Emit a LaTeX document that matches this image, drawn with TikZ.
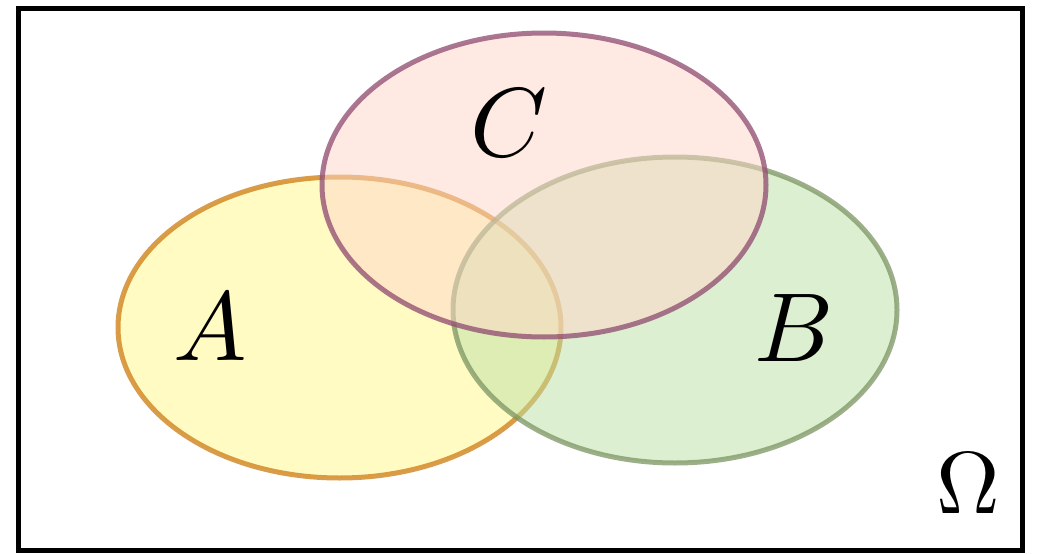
\documentclass[tikz,border=0pt]{standalone}
\usepackage{xcolor}
\definecolor{afill}{RGB}{255,249,135}
\definecolor{adraw}{RGB}{205,124,17}
\definecolor{cfill}{RGB}{255,215,201}
\definecolor{cdraw}{RGB}{142,74,111}
\definecolor{bfill}{RGB}{189,225,165}
\definecolor{bdraw}{RGB}{124,149,99}
\tikzset{
  setshape/.style={line width=5pt, fill opacity=0.5, draw opacity=0.75},
  setlabel/.style={inner sep=0pt, scale=9.8},
}
\begin{document}
\begin{tikzpicture}[x=1pt,y=-1pt]
\useasboundingbox (0,0) rectangle (1039,554);
\fill[white] (0,0) rectangle (1039,554);
\draw[line width=5pt] (18.5,8.5) rectangle (1022.5,550.5);
\path[setshape, fill=afill, draw=adraw] (339.5,327.5) ellipse [x radius=221.5, y radius=150.5];
\path[setshape, fill=bfill, draw=bdraw] (675,310) ellipse [x radius=222, y radius=153];
\path[setshape, fill=cfill, draw=cdraw] (544,185) ellipse [x radius=222, y radius=152];
\node[setlabel] (la) at (210,327) {$A$};
\node[setlabel] (lb) at (794,328) {$B$};
\node[setlabel] (lc) at (509,123) {$C$};
\node[inner sep=0pt, scale=8.8] (lo) at (968,483) {$\Omega$};
\end{tikzpicture}
\end{document}
